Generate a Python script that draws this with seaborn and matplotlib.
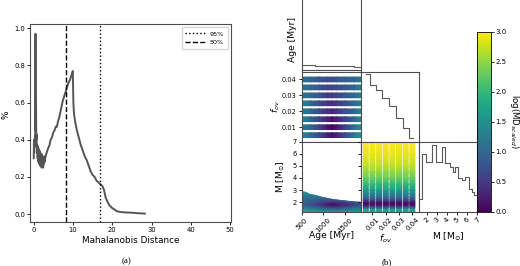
import numpy as np
import matplotlib
matplotlib.use("Agg")
import matplotlib.pyplot as plt
import seaborn as sns
from matplotlib.patches import Polygon
from matplotlib.cm import ScalarMappable

# ---- panel (a): fraction vs Mahalanobis distance ----
md_dist = [0.0, 0.05, 0.1, 0.15, 0.2, 0.3, 0.38, 0.45, 0.52, 0.58, 0.65, 0.72, 0.8, 0.9,
           1.0, 1.1, 1.2, 1.3, 1.4, 1.5, 1.6, 1.7, 1.8, 1.9, 2.0, 2.1, 2.2, 2.3, 2.4, 2.5,
           2.6, 2.7, 2.8, 3.0, 3.3, 3.6, 4.0, 4.3, 4.6, 5.0, 5.3, 5.6, 5.9, 6.2, 6.5, 6.8,
           7.1, 7.4, 7.7, 8.0, 8.3, 8.6, 8.9, 9.2, 9.5, 9.8, 9.95, 10.1, 10.25, 10.6, 11.0,
           11.5, 12.0, 12.5, 13.0, 13.5, 14.0, 14.5, 15.0, 15.5, 16.0, 16.5, 17.0, 17.5,
           17.9, 18.3, 18.7, 19.2, 19.8, 20.5, 21.2, 22.0, 23.0, 24.0, 25.0, 26.0, 27.0, 28.3]
md_frac = [0.30, 0.38, 0.33, 0.40, 0.36, 0.42, 0.40, 0.97, 0.45, 0.60, 0.40, 0.43, 0.33, 0.37,
           0.30, 0.36, 0.28, 0.35, 0.27, 0.34, 0.26, 0.33, 0.26, 0.32, 0.25, 0.32, 0.26, 0.31,
           0.25, 0.30, 0.27, 0.31, 0.28, 0.31, 0.33, 0.35, 0.37, 0.40, 0.41, 0.44, 0.45, 0.47,
           0.47, 0.50, 0.52, 0.55, 0.58, 0.61, 0.63, 0.65, 0.67, 0.69, 0.71, 0.72, 0.74, 0.76,
           0.77, 0.60, 0.54, 0.49, 0.45, 0.41, 0.37, 0.34, 0.31, 0.29, 0.26, 0.23, 0.21, 0.20,
           0.18, 0.17, 0.16, 0.15, 0.13, 0.09, 0.07, 0.05, 0.035, 0.025, 0.015, 0.011, 0.009,
           0.008, 0.007, 0.005, 0.004, 0.002]
pct95 = 16.9
pct50 = 8.3

# ---- panel (b): corner plot ----
fov_grid = [0.005, 0.01, 0.015, 0.02, 0.025, 0.03, 0.035, 0.04]
age_pts = [500, 700, 900, 1100, 1200, 1300, 1500, 1700, 1850]
# log(MD) along age for each f_ov band (bottom to top)
age_fov_md = [
    [1.4, 1.1, 0.7, 0.3, 0.15, 0.3, 0.7, 1.2, 1.6],
    [1.3, 1.0, 0.6, 0.2, 0.05, 0.2, 0.6, 1.1, 1.5],
    [1.3, 1.0, 0.6, 0.3, 0.15, 0.3, 0.6, 1.0, 1.4],
    [1.3, 1.0, 0.7, 0.4, 0.3, 0.45, 0.7, 1.0, 1.4],
    [1.3, 1.0, 0.7, 0.45, 0.4, 0.5, 0.7, 1.0, 1.3],
    [1.2, 1.0, 0.8, 0.5, 0.5, 0.6, 0.8, 1.0, 1.3],
    [1.2, 1.0, 0.8, 0.6, 0.6, 0.7, 0.8, 1.0, 1.3],
    [1.1, 1.0, 0.8, 0.7, 0.7, 0.8, 0.9, 1.0, 1.2],
]

# log(MD) along mass for the f_ov stripes
mass_lo = [1.2, 1.38]
md_mass_lo = [1.8, 1.6]
mass_hi = [1.46, 1.55, 1.65, 1.75, 1.85, 1.95, 2.05, 2.2, 2.4, 2.7, 3.0, 3.5, 4.0, 4.5,
           5.0, 6.0, 7.02]
md_mass_hi = [1.2, 1.0, 0.6, 0.25, 0.1, 0.1, 0.3, 0.6, 1.0, 1.35, 1.65, 2.0, 2.3, 2.5,
              2.7, 2.9, 3.0]

# mass vs age map
age_mg = [500, 800, 1000, 1200, 1400, 1600, 1850]
mass_mg = [1.2, 1.35, 1.55, 1.8, 2.05, 2.3, 2.6, 2.95]
md_age_mass = [
    [1.9, 1.8, 1.7, 1.7, 1.7, 1.7, 1.7],
    [1.6, 1.5, 1.3, 1.2, 1.3, 1.4, 1.5],
    [1.2, 1.0, 0.8, 0.6, 0.7, 0.9, 1.1],
    [0.9, 0.6, 0.3, 0.05, 0.2, 0.4, 0.7],
    [1.0, 0.8, 0.6, 0.5, 0.6, 0.8, 1.0],
    [1.1, 1.0, 0.9, 1.0, 1.1, 1.2, 1.3],
    [1.3, 1.3, 1.3, 1.4, 1.5, 1.5, 1.5],
    [1.8, 1.6, 1.6, 1.6, 1.6, 1.6, 1.6],
]
edge_age = [500, 600, 700, 800, 1000, 1200, 1400, 1600, 1850]
edge_mass = [2.95, 2.82, 2.71, 2.62, 2.44, 2.3, 2.2, 2.12, 2.05]

# marginal histograms
age_hist_x = [500, 800, 1100, 1400, 1700, 1850]
age_hist_y = [4.3, 4.0, 3.6, 3.2, 2.7, 2.4]
fov_edges = [0.0053, 0.0084, 0.0129, 0.0172, 0.0225, 0.0276, 0.0331, 0.0376, 0.0402]
fov_counts = [67.5, 56.5, 51.5, 43.2, 35.5, 23.2, 13.2, 3.8]
mass_edges = [1.2, 1.5, 1.93, 2.5, 2.93, 3.5, 3.83, 4.26, 4.6, 4.83, 5.06, 5.5, 5.83,
              6.16, 6.5, 6.73, 7.0]
mass_counts = [12.7, 57.4, 50, 66.7, 50, 64.4, 48.4, 45, 39.4, 45, 33.4, 31.7, 35, 22.4,
               20, 16.7]

W, H = 520, 266
fig = plt.figure(figsize=(W / 100, H / 100), dpi=100)


def px_axes(x0, y0, x1, y1):
    return fig.add_axes([x0 / W, 1 - y1 / H, (x1 - x0) / W, (y1 - y0) / H])


def style(ax, size=4.8):
    for s in ax.spines.values():
        s.set_color("0.3")
        s.set_linewidth(0.8)
    ax.tick_params(labelsize=size, length=2, width=0.6, pad=1.5)


# ---------------- (a) ----------------
ax = px_axes(30, 24, 231, 222)
sns.lineplot(x=md_dist, y=md_frac, ax=ax, color="#555555", lw=1.4, estimator=None)
ax.axvline(pct95, color="k", ls=":", lw=1, label="95%")
ax.axvline(pct50, color="k", ls="--", lw=1, label="50%")
ax.set_xlim(-0.95, 50.25)
ax.set_ylim(-0.043, 1.023)
ax.set_xticks([0, 10, 20, 30, 40, 50])
ax.set_yticks([0.0, 0.2, 0.4, 0.6, 0.8, 1.0])
style(ax, 4.9)
ax.set_xlabel("Mahalanobis Distance", fontsize=6.4, labelpad=2)
ax.set_ylabel("%", fontsize=6.4)
ax.yaxis.set_label_coords(-0.098, 0.54)
ax.legend(loc="upper right", fontsize=4.6, handlelength=3, borderpad=0.6,
          labelspacing=0.5, frameon=True)
fig.text(127 / W, 1 - 261 / H, "(a)", ha="center", va="center",
         family="Liberation Serif", fontsize=6.5)

# ---------------- (b) ----------------
norm = plt.Normalize(0, 3)
cmap = "viridis"
fov_lim = (0.001, 0.045)
mass_lim = (1.2, 7.02)
age_lim = (500, 1850)

ax00 = px_axes(301.7, -2, 360.5, 69.5)
ax10 = px_axes(301.7, 71.5, 360.5, 141.5)
ax11 = px_axes(360.5, 71.5, 419, 141.5)
ax20 = px_axes(301.7, 141.5, 360.5, 211.8)
ax21 = px_axes(360.5, 141.5, 419, 211.8)
ax22 = px_axes(419, 141.5, 477.3, 211.8)
cax = px_axes(477.3, 31.7, 490.7, 212)

# age marginal
sns.lineplot(x=age_hist_x, y=age_hist_y, ax=ax00, color="0.35", lw=0.8,
             estimator=None, drawstyle="steps-post")
ax00.set_xlim(*age_lim)
ax00.set_ylim(0, 71.5)
ax00.set_xticks([])
ax00.set_yticks([])
style(ax00)
ax00.set_ylabel("Age [Myr]", fontsize=6.6)
ax00.yaxis.set_label_coords(-0.08, 0.42)

# f_ov vs age bands
half_h = 0.0015
for f, prof in zip(fov_grid, age_fov_md):
    ax10.pcolormesh(np.array(age_pts), np.array([f - half_h, f + half_h]),
                    np.vstack([prof, prof]), shading="gouraud", cmap=cmap, norm=norm)
ax10.set_xlim(*age_lim)
ax10.set_ylim(*fov_lim)
ax10.set_yticks([0.01, 0.02, 0.03, 0.04])
ax10.set_yticklabels(["0.01", "0.02", "0.03", "0.04"])
ax10.set_xticks([500, 1000, 1500])
ax10.set_xticklabels([])
style(ax10)
ax10.set_ylabel("$f_{ov}$", fontsize=6.6)
ax10.yaxis.set_label_coords(-0.33, 0.5)

# f_ov marginal
sns.lineplot(x=fov_edges, y=fov_counts + [fov_counts[-1]], ax=ax11, color="0.35",
             lw=0.8, estimator=None, drawstyle="steps-post")
ax11.set_xlim(*fov_lim)
ax11.set_ylim(0, 70)
ax11.set_xticks([])
ax11.set_yticks([])
style(ax11)

# mass vs age
mesh = ax20.pcolormesh(np.array(age_mg), np.array(mass_mg), np.array(md_age_mass),
                       shading="gouraud", cmap=cmap, norm=norm)
verts = [(age_lim[0], 1.0), (age_lim[1], 1.0)] + list(zip(edge_age[::-1], edge_mass[::-1]))
clip = Polygon(verts, closed=True, transform=ax20.transData, facecolor="none",
               edgecolor="none")
ax20.add_patch(clip)
mesh.set_clip_path(clip)
ax20.set_xlim(*age_lim)
ax20.set_ylim(*mass_lim)
ax20.set_xticks([500, 1000, 1500])
ax20.set_yticks([2, 3, 4, 5, 6, 7])
style(ax20)
ax20.tick_params(axis="x", labelrotation=45, labelsize=5)
ax20.set_xlabel("Age [Myr]", fontsize=6.6)
ax20.xaxis.set_label_coords(0.5, -0.27)
ax20.set_ylabel(r"M [M$_{\odot}$]", fontsize=6.6)
ax20.yaxis.set_label_coords(-0.25, 0.5)

# mass vs f_ov stripes
half_w = 0.0019
for f in fov_grid:
    xs = np.array([f - half_w, f + half_w])
    ax21.pcolormesh(xs, np.array(mass_lo), np.column_stack([md_mass_lo, md_mass_lo]),
                    shading="gouraud", cmap=cmap, norm=norm)
    ax21.pcolormesh(xs, np.array(mass_hi), np.column_stack([md_mass_hi, md_mass_hi]),
                    shading="gouraud", cmap=cmap, norm=norm)
ax21.set_xlim(*fov_lim)
ax21.set_ylim(*mass_lim)
ax21.set_xticks([0.01, 0.02, 0.03, 0.04])
ax21.set_xticklabels(["0.01", "0.02", "0.03", "0.04"])
ax21.set_yticks([2, 3, 4, 5, 6, 7])
ax21.set_yticklabels([])
style(ax21)
ax21.tick_params(axis="x", labelrotation=45, labelsize=5)
ax21.set_xlabel("$f_{ov}$", fontsize=6.6)
ax21.xaxis.set_label_coords(0.42, -0.29)

# mass marginal
sns.lineplot(x=mass_edges, y=mass_counts + [mass_counts[-1]], ax=ax22, color="0.35",
             lw=0.8, estimator=None, drawstyle="steps-post")
ax22.set_xlim(*mass_lim)
ax22.set_ylim(0, 70.3)
ax22.set_xticks([2, 3, 4, 5, 6, 7])
ax22.set_yticks([])
style(ax22)
ax22.tick_params(axis="x", labelrotation=45, labelsize=5)
ax22.set_xlabel(r"M [M$_{\odot}$]", fontsize=6.6)
ax22.xaxis.set_label_coords(0.5, -0.27)

# colorbar
cb = fig.colorbar(ScalarMappable(norm=norm, cmap=cmap), cax=cax)
cb.set_ticks([0.0, 0.5, 1.0, 1.5, 2.0, 2.5, 3.0])
cb.ax.tick_params(labelsize=5, length=2, width=0.6, pad=1.5)
cb.outline.set_linewidth(0.6)
cb.set_label("log(MD$_{scaled}$)", rotation=270, fontsize=6.2, va="bottom", labelpad=0.5)

fig.text(387 / W, 1 - 262 / H, "(b)", ha="center", va="center",
         family="Liberation Serif", fontsize=6.5)

fig.savefig("out.png", dpi=100)
